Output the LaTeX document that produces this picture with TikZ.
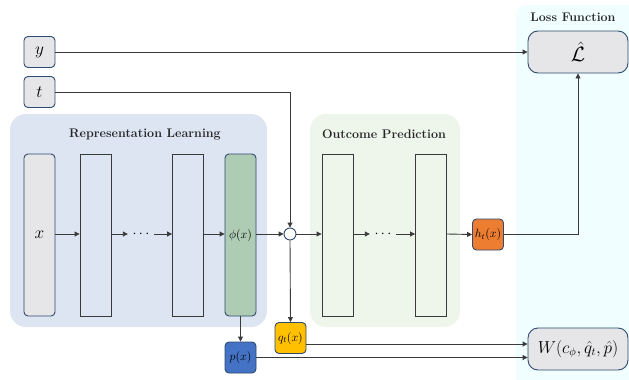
\documentclass[tikz,border=0pt]{standalone}
\usetikzlibrary{arrows.meta}
\definecolor{rlbg}{HTML}{DDE4F2}
\definecolor{opbg}{HTML}{EEF5EA}
\definecolor{lfbg}{HTML}{F0FEFF}
\definecolor{bdr}{HTML}{2F4A70}
\definecolor{grayf}{HTML}{E6E5E8}
\definecolor{greenf}{HTML}{AECBB4}
\definecolor{orangef}{HTML}{ED7D31}
\definecolor{goldf}{HTML}{FFC000}
\definecolor{bluef}{HTML}{4472C4}
\definecolor{ln}{HTML}{3A3A3A}
\begin{document}
\begin{tikzpicture}[x=1pt,y=-1pt,
  rbox/.style={draw=bdr,line width=0.9pt,rounded corners=4pt,minimum width=31pt,minimum height=31pt,inner sep=0pt,font=\fontsize{18}{20}\selectfont},
  bigbox/.style={draw=bdr,line width=0.9pt,fill=grayf,rounded corners=10pt,minimum width=100pt,minimum height=42pt,inner sep=0pt},
  col/.style={draw=ln,line width=0.9pt,minimum width=31pt,minimum height=162pt,inner sep=0pt},
  rcol/.style={draw=bdr,line width=0.9pt,rounded corners=4pt,minimum width=31pt,minimum height=162pt,inner sep=0pt},
  small/.style={draw=bdr,line width=0.9pt,rounded corners=4pt,minimum width=31pt,minimum height=31pt,inner sep=0pt,font=\fontsize{11.5}{12}\selectfont},
  arr/.style={draw=ln,line width=0.9pt,-{Triangle[length=5pt,width=5pt]}},
  dots/.style={inner sep=0pt,minimum width=26pt,minimum height=10pt,font=\fontsize{14}{14}\selectfont},
  title/.style={font=\fontsize{12.5}{14}\selectfont\bfseries,text=black!85}
]
\useasboundingbox (0,0) rectangle (629,380);
% panels
\fill[lfbg,rounded corners=10pt] (516,5) rectangle (640,390);
\fill[rlbg,rounded corners=16pt] (10,114) rectangle (267,327);
\fill[opbg,rounded corners=16pt] (310,114) rectangle (460,327);
\node[title] (tl) at (573,17) {Loss Function};
\node[title] (tr) at (145,134) {Representation Learning};
\node[title] (to) at (384,134) {Outcome Prediction};
% inputs
\node[rbox,fill=grayf] (y) at (39.5,52) {$y$};
\node[rbox,fill=grayf] (t) at (39.5,92) {$t$};
% representation columns
\node[rcol,fill=grayf,font=\fontsize{19}{20}\selectfont] (x) at (39.5,235) {$x$};
\node[col,fill=rlbg] (c2) at (95.5,235) {};
\node[dots] (d1) at (141,234) {$\cdots$};
\node[col,fill=rlbg] (c3) at (188,235) {};
\node[rcol,fill=greenf,font=\fontsize{11.5}{12}\selectfont] (phi) at (240.5,235) {$\phi(x)$};
% combine
\node[circle,draw=bdr,line width=0.9pt,fill=white,minimum size=12pt,inner sep=0pt] (cc) at (290,234) {};
% outcome columns
\node[col,fill=opbg] (o1) at (337.5,235) {};
\node[dots] (d2) at (383,234) {$\cdots$};
\node[col,fill=opbg] (o2) at (431,235) {};
\node[small,fill=orangef] (h) at (488,234.5) {$h_t(x)$};
% loss
\node[bigbox,font=\fontsize{21}{22}\selectfont] (L) at (578,52) {$\hat{\mathcal{L}}$};
\node[bigbox,font=\fontsize{16}{18}\selectfont] (W) at (578,349) {$W(c_\phi,\hat{q}_t,\hat{p})$};
% small outputs
\node[small,fill=goldf] (q) at (290.5,338) {$q_t(x)$};
\node[small,fill=bluef] (p) at (240.5,357.5) {$p(x)$};
% connectors
\draw[arr] (y.east) -- (L.west);
\draw[arr] (t.east) -| (cc.north);
\draw[arr] (x.east |- 0,234) -- (c2.west |- 0,234);
\draw[arr] (c2.east |- 0,234) -- (d1.west);
\draw[arr] (d1.east) -- (c3.west |- 0,234);
\draw[arr] (c3.east |- 0,234) -- (phi.west |- 0,234);
\draw[arr] (phi.east |- 0,234) -- (cc.west);
\draw[arr] (cc.east) -- (o1.west |- 0,234);
\draw[arr] (o1.east |- 0,234) -- (d2.west);
\draw[arr] (d2.east) -- (o2.west |- 0,234);
\draw[arr] (o2.east |- 0,234) -- (h.west);
\draw[arr] (h.east) -| (L.south);
\draw[arr] (cc.south) -- (q.north);
\draw[arr] (phi.south) -- (p.north);
\draw[arr] ([yshift=-6pt]q.east) -- ([yshift=-6pt]q.east -| W.west);
\draw[arr] (p.east) -- (p.east -| W.west);
\end{tikzpicture}
\end{document}
